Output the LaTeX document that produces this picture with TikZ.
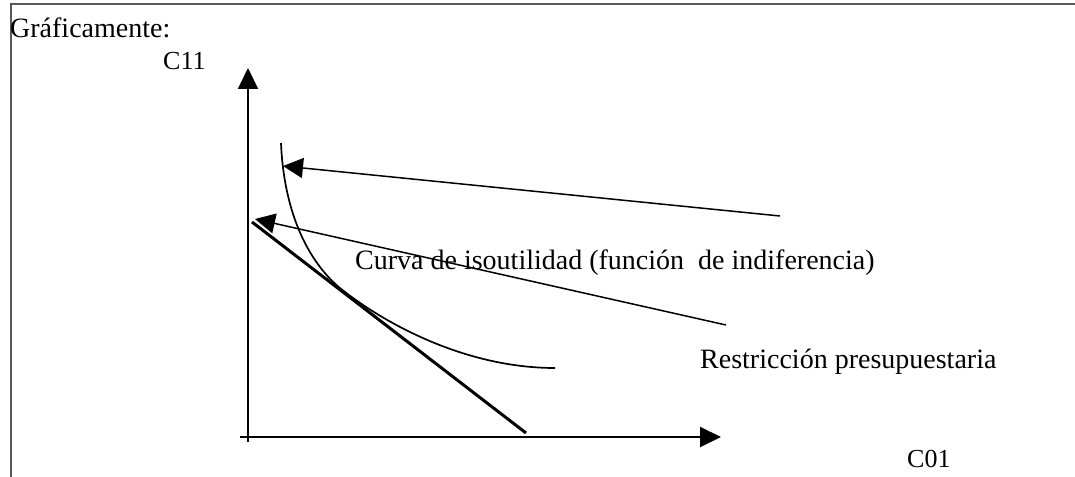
\documentclass[tikz,border=0pt]{standalone}
\usepackage{fontspec}
\setmainfont{Liberation Serif}
\usetikzlibrary{arrows.meta}
\begin{document}
\begin{tikzpicture}[x=1pt,y=-1pt,
  lbl/.style={inner sep=0pt,anchor=base west,font=\fontsize{28}{32}\selectfont},
  axislbl/.style={inner sep=0pt,anchor=base west,font=\fontsize{26}{30}\selectfont},
  axis/.style={line width=2pt,-{Triangle[length=21pt,width=20pt]}},
  pointer/.style={line width=1.5pt,-{Triangle[length=20pt,width=20pt]}},
  budget/.style={line width=3pt},
  curve/.style={line width=1.7pt}]
\useasboundingbox (0,0) rectangle (1075,476);
\draw[line width=1.5pt,black!65] (11,480) -- (11,4) -- (1080,4);
\node[lbl] (title) at (10,38) {Gráficamente:};
\node[axislbl] (c11) at (163,70) {C11};
\node[axislbl] (c01) at (907,467) {C01};
\node[lbl] (curvelbl) at (355,269) {Curva de isoutilidad (función\ \ de indiferencia)};
\node[lbl] (budgetlbl) at (700,368) {Restricción presupuestaria};
% axes
\coordinate (ybot) at (248,442);
\coordinate (ytop) at (248,68);
\coordinate (xleft) at (240,437);
\coordinate (xright) at (721,437);
\draw[axis] (ybot) -- (ytop);
\draw[axis] (xleft) -- (xright);
% budget line
\coordinate (bstart) at (252,222);
\coordinate (bend) at (526,433);
\draw[budget] (bstart) -- (bend);
% indifference curve
\coordinate (cstart) at (281,143);
\coordinate (ctan) at (345,292);
\coordinate (cend) at (555,368);
\draw[curve] (cstart) .. controls (284,215) and (310,266) .. (ctan)
  .. controls (392,328) and (470,368) .. (cend);
% pointers
\coordinate (p1tail) at (780,216);
\coordinate (p1tip) at (283,166);
\coordinate (p2tail) at (726,325);
\coordinate (p2tip) at (255,219);
\draw[pointer] (p1tail) -- (p1tip);
\draw[pointer] (p2tail) -- (p2tip);
\end{tikzpicture}
\end{document}
